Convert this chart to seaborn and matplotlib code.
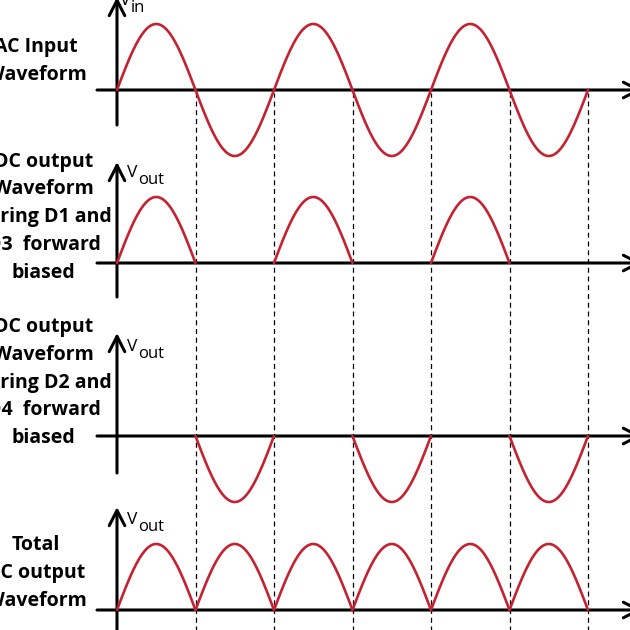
import numpy as np
import pandas as pd
import matplotlib
matplotlib.use("Agg")
import matplotlib.pyplot as plt
import seaborn as sns

# ---------------- data ----------------
half_cycles = [1, 2, 3, 4, 5, 6]                 # half-cycle index
vin_polarity = [1, -1, 1, -1, 1, -1]             # AC input
d1d3_polarity = [1, 0, 1, 0, 1, 0]               # D1 & D3 conduct
d2d4_polarity = [0, -1, 0, -1, 0, -1]            # D2 & D4 conduct
total_polarity = [1, 1, 1, 1, 1, 1]              # full-wave output
amplitude = 1.0

panel_labels = [
    ["AC Input", "Waveform"],
    ["DC output", "Waveform", "during D1 and", "D3  forward", "biased"],
    ["DC output", "Waveform", "during D2 and", "D4  forward", "biased"],
    ["Total", "DC output", "Waveform"],
]
axis_subs = ["in", "out", "out", "out"]

# ---------------- layout (pixels) ----------------
W = H = 630
X0, HALF, AMP = 117, 78.5, 66
baselines_px = [90, 263, 436, 610]
vaxis_px = [(125, -3), (297, 162), (473, 333), (640, 507)]   # (bottom, tip)
label_cx = [36, 43.5, 43.5, 36]
label_y = [[47, 75], [162, 189, 217, 245, 273],
           [327, 355, 383, 410, 438], [545, 573, 601]]
vlab_px = [(120, 1), (127, 173), (127, 347), (127, 520)]
RED = "#C52231"

def tx(xp):
    return (xp - X0) / HALF

def ty(yp):
    return (H - yp) / AMP

sns.set_theme(style="white")
plt.rcParams["font.family"] = ["Open Sans", "DejaVu Sans"]

fig = plt.figure(figsize=(6.3, 6.3), dpi=100)
ax = fig.add_axes([0, 0, 1, 1])
ax.set_xlim(tx(0), tx(W))
ax.set_ylim(0, H / AMP)
ax.axis("off")

# ---------------- waveforms ----------------
rows = []
seg = 0
u = np.linspace(0, 1, 80)
for p, pol in enumerate([vin_polarity, d1d3_polarity, d2d4_polarity, total_polarity]):
    base = ty(baselines_px[p])
    for k, s in zip(half_cycles, pol):
        if s == 0:
            continue
        for uu in u:
            rows.append({"t": k - 1 + uu,
                         "y": base + s * amplitude * np.sin(np.pi * uu),
                         "seg": seg})
        seg += 1
df = pd.DataFrame(rows)
sns.lineplot(data=df, x="t", y="y", units="seg", estimator=None, sort=False,
             color=RED, lw=1.9, ax=ax, zorder=4, legend=False)

# dashed guide lines at zero crossings
ax.vlines([tx(X0 + HALF * k) for k in half_cycles], ty(H + 5), ty(baselines_px[0] + 3),
          colors="black", linestyles=(0, (4, 3)), lw=0.9, zorder=2)

# axes with arrows
arr = dict(arrowstyle="->,head_length=0.55,head_width=0.28", lw=2.2,
           color="black", mutation_scale=20, shrinkA=0, shrinkB=0)
for b in baselines_px:
    ax.annotate("", xy=(tx(642), ty(b)), xytext=(tx(97), ty(b)),
                arrowprops=arr, annotation_clip=False, zorder=3)
for (bot, tip) in vaxis_px:
    ax.annotate("", xy=(0, ty(tip)), xytext=(0, ty(bot)),
                arrowprops=arr, annotation_clip=False, zorder=3)

# axis labels V_in / V_out
for (x, y), sub in zip(vlab_px, axis_subs):
    fig.text(x / W, 1 - y / H, "V", fontsize=12.5, ha="left", va="center", color="black")
    fig.text((x + 11) / W, 1 - (y + 7) / H, sub, fontsize=12, ha="left",
             va="center", color="black")

# panel labels
for lines, cx, ys in zip(panel_labels, label_cx, label_y):
    for s, y in zip(lines, ys):
        fig.text(cx / W, 1 - y / H, s, fontsize=14, fontweight="bold",
                 ha="center", va="center", color="black")

fig.savefig("out.png", dpi=100, facecolor="white")
